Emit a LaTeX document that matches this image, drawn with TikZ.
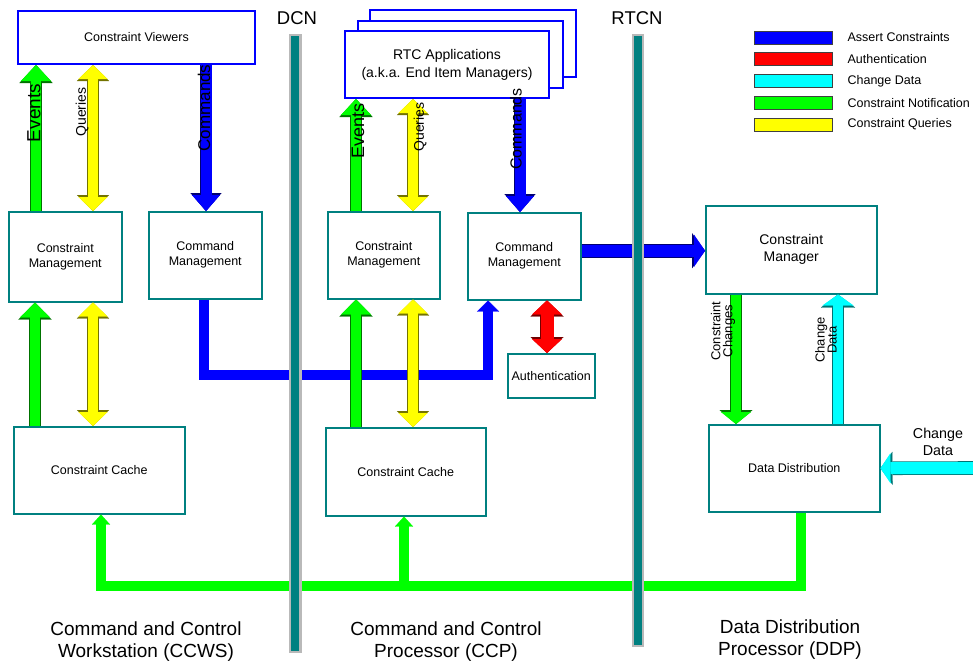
\documentclass[tikz,border=0pt]{standalone}
\usepackage{fontspec}
\setmainfont{Liberation Sans}
\usepackage{tikz}
\usetikzlibrary{positioning, arrows.meta}

\definecolor{boxteal}{RGB}{0,128,128}
\definecolor{bargray}{RGB}{185,185,185}
\definecolor{fatgreen}{RGB}{0,255,0}
\definecolor{fatyellow}{RGB}{255,255,0}
\definecolor{fatblue}{RGB}{0,0,255}
\definecolor{fatred}{RGB}{255,0,0}
\definecolor{fatcyan}{RGB}{0,255,255}

% colour, shaft, head width, head length, tips, path
\newcommand{\fatarrow}[6]{%
  \pgfmathsetmacro{\fatW}{#2+1.6}%
  \pgfmathsetmacro{\fatHW}{#3+3}%
  \pgfmathsetmacro{\fatHL}{#4+2}%
  \draw[draw=#1!45!black, line width=\fatW pt, #5,
    >={Triangle[width=\fatHW pt, length=\fatHL pt, line width=0.1pt]}] #6;
  \draw[draw=#1, line width=#2pt, #5,
    >={Triangle[width=#3pt, length=#4pt, line width=0.1pt]}] #6;}

\begin{document}
\begin{tikzpicture}[x=1pt, y=-1pt,
  main node/.style={rectangle, draw=boxteal, line width=1.5pt, fill=white,
    align=center, anchor=north west, inner sep=2pt,
    font=\fontsize{12.5}{15}\selectfont},
  view node/.style={main node, draw=fatblue, line width=2pt},
  key node/.style={rectangle, draw=black!75, line width=0.8pt,
    minimum width=78pt, minimum height=13pt, inner sep=0pt},
  key text/.style={anchor=west, inner sep=0pt, font=\fontsize{12.5}{15}\selectfont},
  arrow text/.style={rotate=90, inner sep=0pt, align=center},
  big text/.style={align=center, inner sep=0pt, font=\fontsize{19}{22.5}\selectfont}]

\useasboundingbox (0,0) rectangle (973,664);

% boxes
\node[view node, minimum width=237pt, minimum height=53pt] (viewers) at (17,10) {Constraint Viewers};
\node[view node, minimum width=206pt, minimum height=67pt] (rtcC) at (369,9) {};
\node[view node, minimum width=205pt, minimum height=67pt] (rtcB) at (356.5,19.5) {};
\node[view node, minimum width=204pt, minimum height=67pt,
  font=\fontsize{14}{18}\selectfont] (rtc) at (344,30) {RTC Applications\\(a.k.a. End Item Managers)};

\node[main node, minimum width=113pt, minimum height=90pt] (cmL) at (8,211) {Constraint\\Management};
\node[main node, minimum width=113pt, minimum height=87pt] (cmdL) at (148,211) {Command\\Management};
\node[main node, minimum width=171pt, minimum height=87pt] (cacheL) at (13,426) {Constraint Cache};

\node[main node, minimum width=112pt, minimum height=87pt] (cmM) at (327,211) {Constraint\\Management};
\node[main node, minimum width=160pt, minimum height=88pt] (cacheM) at (325,427) {Constraint Cache};
\node[main node, minimum width=113pt, minimum height=87pt] (cmdM) at (467,212) {Command\\Management};
\node[main node, minimum width=87pt, minimum height=44pt] (auth) at (507,353) {Authentication};

\node[main node, minimum width=171pt, minimum height=88pt,
  font=\fontsize{14}{17}\selectfont] (mgr) at (705,205) {Constraint\\Manager};
\node[main node, minimum width=171pt, minimum height=87pt] (dd) at (708,424) {Data Distribution};

% arrow ends
\coordinate (evL) at ([xshift=28pt]cmL.north west);
\coordinate (quL) at ([xshift=85pt]cmL.north west);
\coordinate (coL) at ([xshift=58pt]cmdL.north west);
\coordinate (evM) at ([xshift=29pt]cmM.north west);
\coordinate (quM) at ([xshift=86pt]cmM.north west);
\coordinate (coM) at ([xshift=53pt]cmdM.north west);
\coordinate (nfL) at ([xshift=22pt]cacheL.north west);
\coordinate (qcL) at ([xshift=80pt]cacheL.north west);
\coordinate (nfM) at ([xshift=31pt]cacheM.north west);
\coordinate (qcM) at ([xshift=88pt]cacheM.north west);
\coordinate (au) at ([xshift=40pt]auth.north west);
\coordinate (as) at ([yshift=5.5pt]cmdM.east);
\coordinate (chg) at ([xshift=31pt]mgr.south west);
\coordinate (cdU) at ([xshift=130pt]dd.north west);
\coordinate (cdIn) at (973,468);
\coordinate (busA) at ([xshift=56pt]cmdL.south west);
\coordinate (busB) at ([xshift=21pt]cmdM.south west);
\coordinate (gbA) at ([xshift=93pt]dd.south west);
\coordinate (gbL) at ([xshift=88pt]cacheL.south west);
\coordinate (gbM) at ([xshift=79pt]cacheM.south west);

% buses
\draw[fatblue, line width=10pt, -{Triangle[width=22pt, length=11pt, line width=0.1pt]}]
  (busA) -- ++(0,75) -| (busB);
\draw[fatgreen, line width=10pt, -{Triangle[width=18pt, length=10pt, line width=0.1pt]}]
  (gbA) -- ++(0,73) -| (gbL);
\draw[fatgreen, line width=10pt, -{Triangle[width=18pt, length=10pt, line width=0.1pt]}]
  ([yshift=-69pt]gbM) -- (gbM);

% fat arrows
\fatarrow{fatgreen}{10}{30}{16}{->}{(evL) -- (evL |- viewers.south)}
\fatarrow{fatyellow}{10}{29}{14}{<->}{(quL) -- (quL |- viewers.south)}
\fatarrow{fatblue}{11}{28}{16}{->}{(coL |- viewers.south) -- (coL)}
\fatarrow{fatgreen}{10}{30}{16}{->}{(evM) -- (evM |- rtc.south)}
\fatarrow{fatyellow}{10}{29}{14}{<->}{(quM) -- (quM |- rtc.south)}
\fatarrow{fatblue}{11}{28}{16}{->}{(coM |- rtc.south) -- (coM)}
\fatarrow{fatgreen}{10}{30}{15}{->}{(nfL) -- (nfL |- cmL.south)}
\fatarrow{fatyellow}{10}{29}{14}{<->}{(qcL) -- (qcL |- cmL.south)}
\fatarrow{fatgreen}{10}{30}{15}{->}{(nfM) -- (nfM |- cmM.south)}
\fatarrow{fatyellow}{10}{29}{14}{<->}{(qcM) -- (qcM |- cmM.south)}
\fatarrow{fatred}{13}{30}{14}{<->}{(au) -- (au |- cmdM.south)}
\fatarrow{fatblue}{12}{32}{11}{->}{(as) -- (as -| mgr.west)}
\fatarrow{fatgreen}{10}{30}{12}{->}{(chg) -- (chg |- dd.north)}
\fatarrow{fatcyan}{10}{31}{11}{->}{(cdU) -- (cdU |- mgr.south)}
\fatarrow{fatcyan}{12}{30}{10}{->}{(cdIn) -- (dd.east)}

% arrow labels
\node[arrow text, font=\fontsize{19}{19}\selectfont] (evLt) at (34,113) {Events};
\node[arrow text, font=\fontsize{14}{14}\selectfont] (quLt) at (82,112) {Queries};
\node[arrow text, font=\fontsize{17}{17}\selectfont] (coLt) at (204,108) {Commands};
\node[arrow text, font=\fontsize{18}{18}\selectfont] (evMt) at (358,131) {Events};
\node[arrow text, font=\fontsize{14}{14}\selectfont] (quMt) at (420,127) {Queries};
\node[arrow text, font=\fontsize{16}{16}\selectfont] (coMt) at (516,129) {Commands};
\node[arrow text, font=\fontsize{13}{12}\selectfont] (chgt) at (723,331) {Constraint\\Changes};
\node[arrow text, font=\fontsize{13}{12}\selectfont] (cdUt) at (826,340) {Change\\Data};
\node[align=center, inner sep=0pt, font=\fontsize{14.3}{17}\selectfont] (cdInt) at (938,442) {Change\\Data};

% networks
\fill[bargray] (288.5,34) rectangle (301.5,653);
\fill[boxteal] (291,36) rectangle (299,651);
\fill[bargray] (632,34) rectangle (644,647);
\fill[boxteal] (634,36) rectangle (641.5,645);
\node[font=\fontsize{18.5}{20}\selectfont, inner sep=0pt] (dcn) at (297,18) {DCN};
\node[font=\fontsize{18.5}{20}\selectfont, inner sep=0pt] (rtcn) at (637,18) {RTCN};

% legend
\node[key node, fill=fatblue] (keyA) at (793,37.5) {};
\node[key node, fill=fatred] (keyB) at (793,59) {};
\node[key node, fill=fatcyan] (keyC) at (793,81) {};
\node[key node, fill=fatgreen] (keyD) at (793,103) {};
\node[key node, fill=fatyellow] (keyE) at (793,124.5) {};
\node[key text, right=15pt of keyA] {Assert Constraints};
\node[key text, right=15pt of keyB] {Authentication};
\node[key text, right=15pt of keyC] {Change Data};
\node[key text, right=15pt of keyD] {Constraint Notification};
\node[key text, right=15pt of keyE] {Constraint Queries};

% processors
\node[big text] (ccws) at (146,641.5) {Command and Control\\Workstation (CCWS)};
\node[big text] (ccp) at (446,641.5) {Command and Control\\Processor (CCP)};
\node[big text] (ddp) at (790,639.5) {Data Distribution\\Processor (DDP)};

\end{tikzpicture}
\end{document}
